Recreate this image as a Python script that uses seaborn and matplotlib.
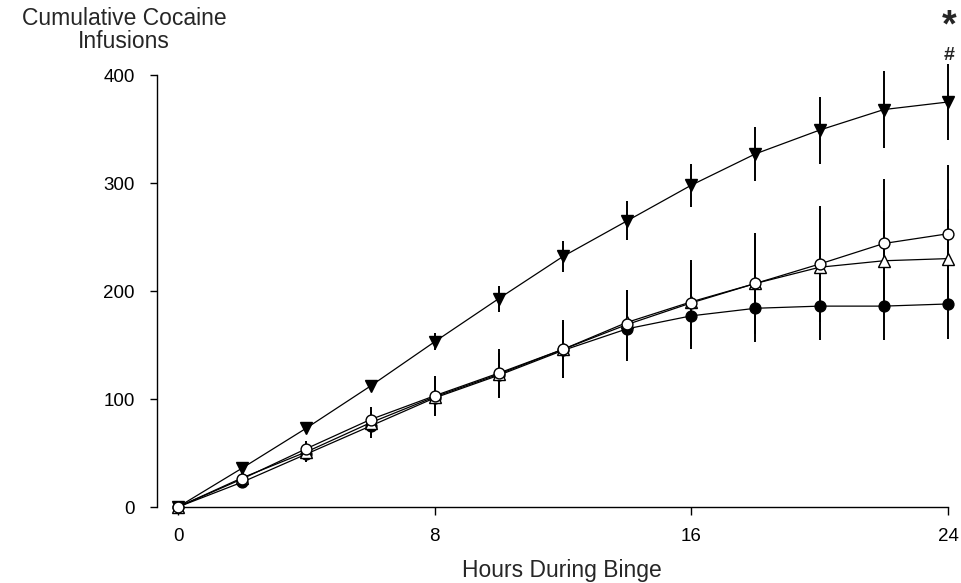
import matplotlib
matplotlib.use("Agg")
import matplotlib.pyplot as plt
import seaborn as sns
import pandas as pd

hours = [0, 2, 4, 6, 8, 10, 12, 14, 16, 18, 20, 22, 24]

down_tri = [0, 36, 73, 112, 153, 193, 232, 265, 298, 327, 349, 368, 375]
down_tri_err = [0, 3, 4, 5, 8, 12, 14, 18, 20, 25, 31, 36, 35]

open_circ = [0, 26, 54, 81, 103, 124, 146, 169, 189, 207, 225, 244, 253]
open_circ_err = [0, 4, 7, 12, 18, 22, 27, 32, 40, 47, 54, 60, 64]

open_tri = [0, 27, 51, 78, 102, 123, 146, 171, 190, 207, 222, 228, 230]
open_tri_err = [0, 4, 7, 11, 16, 20, 25, 30, 36, 40, 44, 46, 46]

filled_circ = [0, 23, 49, 75, 101, 122, 145, 165, 177, 184, 186, 186, 188]
filled_circ_err = [0, 4, 7, 11, 17, 21, 26, 30, 31, 31, 31, 31, 32]

x_ticks = [0, 8, 16, 24]
y_ticks = [0, 100, 200, 300, 400]

sns.set_theme(style="ticks")
plt.rcParams["font.family"] = ["Liberation Sans", "DejaVu Sans"]

fig = plt.figure(figsize=(9.61, 5.83), dpi=100)
W, H = 961, 583
left_px, right_px = 157, 948
top_px, bot_px = 75, 507
ax = fig.add_axes([left_px / W, 1 - bot_px / H, (right_px - left_px) / W, (bot_px - top_px) / H])

series = [
    (down_tri, down_tri_err, "v", "black"),
    (filled_circ, filled_circ_err, "o", "black"),
    (open_tri, open_tri_err, "^", "white"),
    (open_circ, open_circ_err, "o", "white"),
]

for vals, errs, mk, fc in series:
    ax.errorbar(hours, vals, yerr=errs, fmt="none", ecolor="black",
                elinewidth=1.4, capsize=0, clip_on=False, zorder=2)

for vals, errs, mk, fc in series:
    df = pd.DataFrame({"h": hours, "v": vals})
    ms = 9 if mk in ("v", "^") else 7.8
    sns.lineplot(data=df, x="h", y="v", ax=ax, color="black", linewidth=0.9,
                 marker=mk, markersize=ms, markerfacecolor=fc,
                 markeredgecolor="black", markeredgewidth=1.0,
                 clip_on=False, zorder=3)

per_hour = (right_px - 178) / 24.0
ax.set_xlim(-(178 - left_px) / per_hour, 24)
ax.set_ylim(0, 400)

ax.spines["top"].set_visible(False)
ax.spines["right"].set_visible(False)
ax.spines["left"].set_bounds(0, 400)
ax.spines["bottom"].set_bounds(0, 24)
for s in ("left", "bottom"):
    ax.spines[s].set_linewidth(1.0)
    ax.spines[s].set_color("black")

ax.set_xticks(x_ticks)
ax.set_yticks(y_ticks)
ax.set_xticklabels([str(t) for t in x_ticks])
ax.set_yticklabels([str(t) for t in y_ticks])
ax.tick_params(axis="y", direction="out", length=5, width=1.0,
               labelsize=13.5, colors="black", pad=11)
ax.tick_params(axis="x", direction="out", length=6, width=1.0,
               labelsize=13.5, colors="black", pad=9)
ax.set_xlabel("")
ax.set_ylabel("")

fig.text(562 / W, 1 - 570 / H, "Hours During Binge", ha="center", va="center", fontsize=16.5)
fig.text(124 / W, 1 - 30 / H, "Cumulative Cocaine\nInfusions", ha="center", va="center",
         fontsize=16.5, linespacing=1.0)

fig.text(949 / W, 1 - 56 / H, "#", ha="center", va="center", fontsize=14, fontweight="bold")
fig.text(949 / W, 1 - 44 / H, "*", ha="center", va="bottom", fontsize=27, fontweight="bold")

fig.savefig("out.png", dpi=100, facecolor="white")
